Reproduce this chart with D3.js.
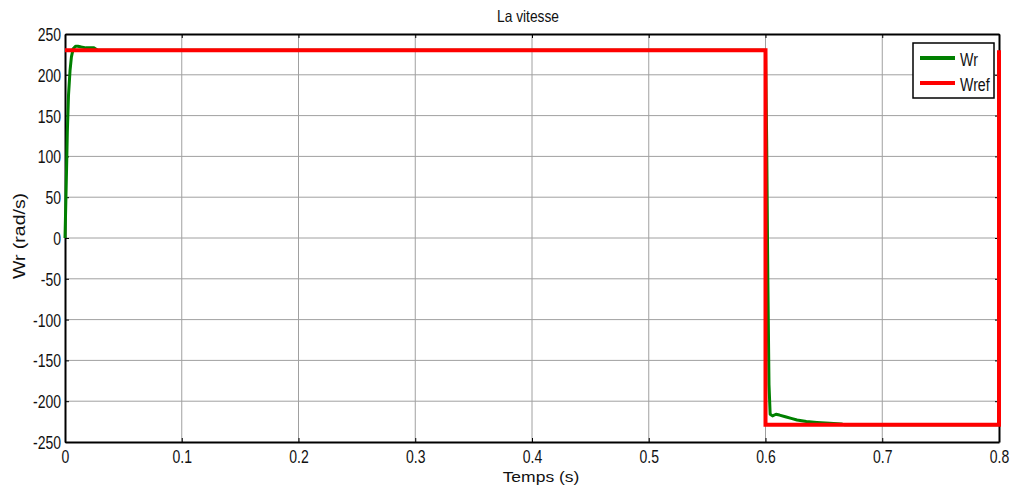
<!DOCTYPE html>
<html><head><meta charset="utf-8">
<script src="https://cdn.jsdelivr.net/npm/d3@7"></script>
<style>body{margin:0;background:#fff;} text{font-family:"Liberation Sans",Arial,sans-serif;}</style>
</head><body>
<svg id="c" width="1019" height="494"></svg>
<script>
const xTicks = [0,0.1,0.2,0.3,0.4,0.5,0.6,0.7,0.8];
const yTicks = [-250,-200,-150,-100,-50,0,50,100,150,200,250];
// Wref: reference speed (rad/s)
const refTime = [0, 0.6, 0.6, 0.8, 0.8];
const refVal  = [230, 230, -229, -229, 230];
// Wr: measured speed (rad/s)
const wrTime = [0, 0.0008, 0.0015, 0.002, 0.003, 0.0043, 0.0055, 0.007, 0.009, 0.011, 0.014, 0.018, 0.025, 0.028, 0.1, 0.3, 0.5, 0.6, 0.601, 0.602, 0.603, 0.604, 0.606, 0.609, 0.612, 0.617, 0.622, 0.627, 0.635, 0.644, 0.655, 0.665, 0.668, 0.7, 0.8];
const wrVal  = [0, 50, 95, 130, 175, 205, 222, 232, 235, 235, 234, 233, 233, 230, 230, 230, 230, 230, 120, -50, -180, -216, -218, -216, -217, -219, -221, -223, -225, -226, -227, -228, -229, -229, -229];

const svg = d3.select("#c");
const m = {l:65, r:999, t:34, b:442};
const x = d3.scaleLinear().domain([0,0.8]).range([m.l, m.r]);
const y = d3.scaleLinear().domain([-250,250]).range([m.b, m.t]);

// grid
svg.append("g").selectAll("line").data(xTicks.slice(1,-1)).join("line")
  .attr("x1",d=>x(d)).attr("x2",d=>x(d)).attr("y1",m.t).attr("y2",m.b)
  .attr("stroke","#a0a0a0").attr("stroke-width",1);
svg.append("g").selectAll("line").data(yTicks.slice(1,-1)).join("line")
  .attr("y1",d=>y(d)).attr("y2",d=>y(d)).attr("x1",m.l).attr("x2",m.r)
  .attr("stroke","#a0a0a0").attr("stroke-width",1);

// axes
const fmt = d => String(d);
const xa = svg.append("g").attr("transform",`translate(0,${m.b})`)
  .call(d3.axisBottom(x).tickValues(xTicks).tickFormat(fmt).tickSizeInner(-4).tickSizeOuter(0));
const xt = svg.append("g").attr("transform",`translate(0,${m.t})`)
  .call(d3.axisTop(x).tickValues(xTicks).tickFormat("").tickSizeInner(-4).tickSizeOuter(0));
const ya = svg.append("g").attr("transform",`translate(${m.l},0)`)
  .call(d3.axisLeft(y).tickValues(yTicks).tickFormat(fmt).tickSizeInner(-4).tickSizeOuter(0));
const yr = svg.append("g").attr("transform",`translate(${m.r},0)`)
  .call(d3.axisRight(y).tickValues(yTicks).tickFormat("").tickSizeInner(-4).tickSizeOuter(0));
[xa,xt,ya,yr].forEach(g=>{
  g.select(".domain").attr("stroke","#000").attr("stroke-width",2);
  g.selectAll(".tick line").attr("stroke","#000");
  g.selectAll(".tick text").attr("font-size",14).attr("fill","#111").attr("font-family","Liberation Sans, Arial, sans-serif");
});
xa.selectAll(".tick text").attr("y",0).attr("dy",null).attr("transform","translate(0,20.5) scale(1,1.25)");
ya.selectAll(".tick text").attr("x",0).attr("dy",null).attr("text-anchor","end").attr("transform","translate(-4,6.5) scale(1,1.25)");

// lines
const line = d3.line().x(d=>x(d[0])).y(d=>y(d[1]));
svg.append("path").datum(wrTime.map((t,i)=>[t,wrVal[i]]))
  .attr("d",line).attr("fill","none").attr("stroke","#008000").attr("stroke-width",3).attr("stroke-linejoin","round");
svg.append("path").datum(refTime.map((t,i)=>[t,refVal[i]]))
  .attr("d",line).attr("fill","none").attr("stroke","#ff0000").attr("stroke-width",4);

// title & labels
svg.append("text").attr("transform","translate(528,21.5) scale(1,1.15)").attr("text-anchor","middle").attr("font-size",13.8).attr("fill","#111").text("La vitesse");
svg.append("text").attr("transform","translate(541,481.5) scale(1,0.88)").attr("text-anchor","middle").attr("font-size",17.5).attr("fill","#111").text("Temps (s)");
svg.append("text").attr("transform","translate(25,236) rotate(-90) scale(1,0.86)").attr("text-anchor","middle").attr("font-size",19.5).attr("fill","#111").text("Wr (rad/s)");

// legend
const lg = svg.append("g");
lg.append("rect").attr("x",913).attr("y",43).attr("width",81).attr("height",55).attr("fill","#fff").attr("stroke","#000").attr("stroke-width",1.5);
const items = [["Wr","#008000"],["Wref","#ff0000"]];
items.forEach((it,i)=>{
  const yy = 58 + i*25;
  lg.append("line").attr("x1",920).attr("x2",955).attr("y1",yy).attr("y2",yy).attr("stroke",it[1]).attr("stroke-width",4);
  lg.append("text").attr("transform",`translate(960,${yy+7.5}) scale(1,1.25)`).attr("font-size",14.2).attr("fill","#111").text(it[0]);
});
</script>
</body></html>
